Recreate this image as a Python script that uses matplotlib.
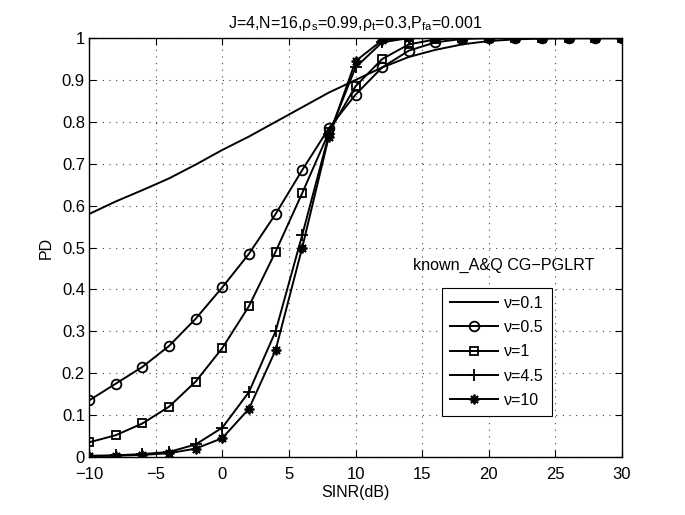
import numpy as np
import matplotlib
matplotlib.use("Agg")
import matplotlib.pyplot as plt

plt.rcParams['font.family'] = ['Liberation Sans', 'DejaVu Sans']
plt.rcParams['mathtext.default'] = 'regular'

# SINR axis (dB)
sinr = [-10, -8, -6, -4, -2, 0, 2, 4, 6, 8, 10, 12, 14, 16, 18, 20, 22, 24, 26, 28, 30]

# PD for each shape parameter nu
pd_01 = [0.58, 0.61, 0.637, 0.665, 0.698, 0.733, 0.765, 0.80, 0.835, 0.87, 0.90,
         0.93, 0.955, 0.972, 0.985, 0.993, 0.997, 0.999, 1.0, 1.0, 1.0]
pd_05 = [0.135, 0.175, 0.215, 0.265, 0.33, 0.405, 0.485, 0.58, 0.685, 0.785, 0.865,
         0.93, 0.97, 0.99, 0.998, 1.0, 1.0, 1.0, 1.0, 1.0, 1.0]
pd_1 = [0.035, 0.052, 0.08, 0.12, 0.18, 0.26, 0.36, 0.49, 0.63, 0.775, 0.885,
        0.95, 0.985, 0.997, 1.0, 1.0, 1.0, 1.0, 1.0, 1.0, 1.0]
pd_45 = [0.003, 0.004, 0.007, 0.012, 0.03, 0.07, 0.155, 0.30, 0.53, 0.77, 0.93,
         0.99, 1.0, 1.0, 1.0, 1.0, 1.0, 1.0, 1.0, 1.0, 1.0]
pd_10 = [0.002, 0.003, 0.005, 0.009, 0.02, 0.045, 0.115, 0.255, 0.50, 0.765, 0.945,
         0.995, 1.0, 1.0, 1.0, 1.0, 1.0, 1.0, 1.0, 1.0, 1.0]

# MATLAB-style asterisk: 8 arms
asterisk = (8, 2, 0)
series = [
    (pd_01, None, 7, 'ν=0.1'),
    (pd_05, 'o', 7, 'ν=0.5'),
    (pd_1, 's', 6, 'ν=1'),
    (pd_45, '+', 9, 'ν=4.5'),
    (pd_10, asterisk, 7, 'ν=10'),
]

fig = plt.figure(figsize=(6.85, 5.15), dpi=100)
ax = fig.add_axes([0.130, 0.1126, 0.778, 0.8134])

for y, m, ms, lab in series:
    ax.plot(sinr, y, color='black', linewidth=1.4, marker=m, markersize=ms,
            markerfacecolor='none', markeredgecolor='black', markeredgewidth=1.3,
            label=lab)

ax.set_xlim(-10, 30)
ax.set_ylim(0, 1)
ax.set_xticks(np.arange(-10, 31, 5))
ax.set_yticks(np.arange(0, 1.01, 0.1))
ax.set_yticklabels(['0', '0.1', '0.2', '0.3', '0.4', '0.5', '0.6', '0.7', '0.8', '0.9', '1'])
ax.tick_params(direction='in', top=True, right=True, labelsize=12, length=5, pad=3)
ax.tick_params(axis='x', pad=7)
ax.grid(True, linestyle=(0, (1, 5)), color='#444444', linewidth=0.8)
for s in ax.spines.values():
    s.set_linewidth(1.0)

ax.set_xlabel('SINR(dB)', fontsize=11.5, labelpad=2)
ax.set_ylabel('PD', fontsize=11.5, labelpad=6)
ax.set_title('J=4,N=16,$\\rho_s$=0.99,$\\rho_t$=0.3,$P_{fa}$=0.001', fontsize=11.5, pad=7)

ax.text(21.1, 0.458, 'known_A&Q CG\u2212PGLRT', fontsize=11.6, ha='center', va='center')

leg = ax.legend(loc='upper left', bbox_to_anchor=(0.6625, 0.404), fontsize=11.5,
                fancybox=False, edgecolor='black', framealpha=1,
                handlelength=3.0, labelspacing=0.58, borderpad=0.5, handletextpad=0.4,
                borderaxespad=0)
leg.get_frame().set_linewidth(0.8)

fig.savefig('out.png', dpi=100)
